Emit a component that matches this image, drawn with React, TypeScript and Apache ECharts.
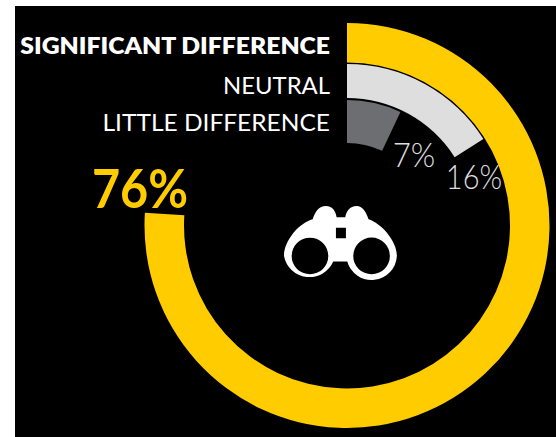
import React, { useEffect, useRef } from "react";
import * as echarts from "echarts";

const categories = ["SIGNIFICANT DIFFERENCE", "NEUTRAL", "LITTLE DIFFERENCE"];
const values = [76, 16, 7];
const colors = ["#FFCC00", "#DEDEDE", "#6D6E71"];
const radii: [number, number][] = [[163, 202.5], [127.5, 161.5], [82.5, 125.5]];
const labelY = [45, 85, 122];
const labelScale = [1.1, 1.06, 1.09];
const labelFonts = [
  { fontSize: 22.5, fontWeight: 800 },
  { fontSize: 22.5, fontWeight: 400 },
  { fontSize: 22.5, fontWeight: 400 },
];
const valuePos = [[140, 187], [474, 176], [414, 154]];
const valueScale = [0.9, 0.88, 0.95];
const valueFonts = [
  { fontSize: 54, fontWeight: 700, fill: "#FFCC00" },
  { fontSize: 33, fontWeight: 300, fill: "#DEDEDE" },
  { fontSize: 33, fontWeight: 300, fill: "#DEDEDE" },
];

const BINOCULARS =
  "M200 82 L226 82 C228 65 240 48 260 48 C278 48 288 65 296 88 C330 98 381 150 381 198 " +
  "A76 76 0 0 1 232 215 L190 215 A78 78 0 0 1 42 198 C42 150 90 98 128 88 " +
  "C136 65 146 48 168 48 C188 48 198 65 200 82 Z " +
  "M65 198 A55 55 0 1 0 175 198 A55 55 0 1 0 65 198 Z " +
  "M250 198 A55 55 0 1 0 360 198 A55 55 0 1 0 250 198 Z " +
  "M198 113 L198 145 L228 145 L228 113 Z";

export default function App() {
  const ref = useRef<HTMLDivElement>(null);
  useEffect(() => {
    document.body.style.margin = "0";
    document.body.style.background = "#fff";
    echarts.graphic.registerShape("binoculars", echarts.graphic.extendPath(BINOCULARS, {}));
    const chart = echarts.init(ref.current!, null, { renderer: "svg" });
    chart.setOption({
      animation: false,
      backgroundColor: "#fff",
      series: values.map((v, i) => ({
        type: "pie",
        z: 2,
        silent: true,
        center: [347, 225.5],
        radius: radii[i],
        startAngle: 90,
        clockwise: true,
        label: { show: false },
        labelLine: { show: false },
        emphasis: { disabled: true },
        data: [
          { name: categories[i], value: v, itemStyle: { color: colors[i] } },
          { name: "rest", value: 100 - v, itemStyle: { color: "rgba(0,0,0,0)" } },
        ],
      })),
      graphic: [
        { type: "rect", z: 0, silent: true, shape: { x: 15, y: 6, width: 541, height: 431 }, style: { fill: "#000" } },
        ...categories.map((c, i) => ({
          type: "text",
          z: 10,
          x: 330,
          y: labelY[i],
          scaleX: labelScale[i],
          style: {
            text: c,
            fill: "#fff",
            align: "right",
            verticalAlign: "middle",
            fontFamily: "Lato",
            ...labelFonts[i],
          },
        })),
        ...values.map((v, i) => ({
          type: "text",
          z: 10,
          x: valuePos[i][0],
          y: valuePos[i][1],
          scaleX: valueScale[i],
          style: {
            text: `${v}%`,
            align: "center",
            verticalAlign: "middle",
            fontFamily: "Lato",
            ...valueFonts[i],
          },
        })),
        { type: "binoculars", z: 10, x: 270, y: 190, scaleX: 1 / 3, scaleY: 1 / 3, style: { fill: "#fff" } },
      ],
    });
    return () => chart.dispose();
  }, []);
  return <div ref={ref} style={{ width: 556, height: 437 }} />;
}
